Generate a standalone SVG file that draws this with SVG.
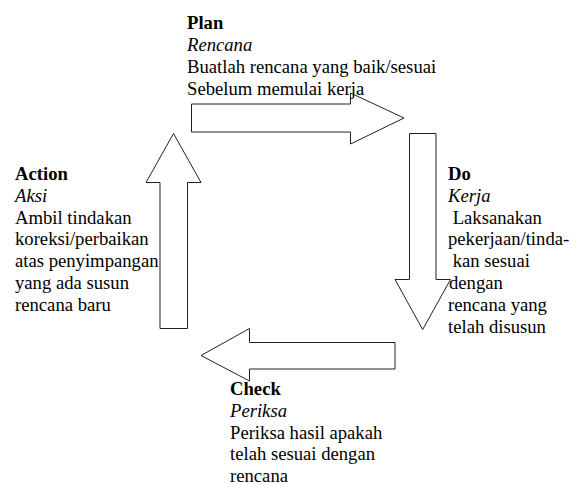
<svg xmlns="http://www.w3.org/2000/svg" width="579" height="484" viewBox="0 0 579 484">
<style>
  .arrow { fill: #ffffff; stroke: #222222; stroke-width: 1; stroke-linejoin: miter; }
  .t { font-family: 'Liberation Serif', 'Times New Roman', Times, serif; font-size: 18.67px; fill: #000000; }
  .title { font-weight: bold; }
  .sub { font-style: italic; }
</style>
<rect x="0" y="0" width="579" height="484" fill="#ffffff"/>
<g id="connectors">
  <polygon class="arrow" points="191.5,104 350.5,104 350.5,93 404,118 350.5,144 350.5,132 191.5,132"/>
  <polygon class="arrow" points="409.5,133.5 436,133.5 436,279.5 450.5,279.5 422.7,329.5 395,279.5 409.5,279.5"/>
  <polygon class="arrow" points="395,342.5 249.5,342.5 249.5,328.5 201,355.5 249.5,381 249.5,369 395,369"/>
  <polygon class="arrow" points="160,328.5 187.5,328.5 187.5,182.5 201,182.5 173.5,133.5 146,182.5 160,182.5"/>
</g>
<g id="plan" class="t" font-family="Liberation Serif, serif">
  <text x="187" y="29.3" class="title">Plan</text>
  <text x="187" y="51.3" class="sub">Rencana</text>
  <text x="187" y="73.2">Buatlah rencana yang baik/sesuai</text>
  <text x="187" y="95">Sebelum memulai kerja</text>
</g>
<g id="do" class="t" font-family="Liberation Serif, serif">
  <text x="448" y="180" class="title">Do</text>
  <text x="448" y="201.8" class="sub">Kerja</text>
  <text x="448" y="223.6" xml:space="preserve"> Laksanakan</text>
  <text x="448" y="245.4">pekerjaan/tinda-</text>
  <text x="448" y="267.2" xml:space="preserve"> kan sesuai</text>
  <text x="449" y="289">dengan</text>
  <text x="448" y="310.8">rencana yang</text>
  <text x="448" y="332.6">telah disusun</text>
</g>
<g id="check" class="t" font-family="Liberation Serif, serif">
  <text x="230" y="395" class="title">Check</text>
  <text x="230" y="416.8" class="sub">Periksa</text>
  <text x="230" y="438.6">Periksa hasil apakah</text>
  <text x="230" y="460.4">telah sesuai dengan</text>
  <text x="230" y="481.5">rencana</text>
</g>
<g id="action" class="t" font-family="Liberation Serif, serif">
  <text x="15" y="180" class="title">Action</text>
  <text x="15" y="201.8" class="sub">Aksi</text>
  <text x="15" y="223.6">Ambil tindakan</text>
  <text x="15" y="245.4">koreksi/perbaikan</text>
  <text x="15" y="267.2">atas penyimpangan</text>
  <text x="15" y="289">yang ada susun</text>
  <text x="15" y="310.8">rencana baru</text>
</g>
</svg>
